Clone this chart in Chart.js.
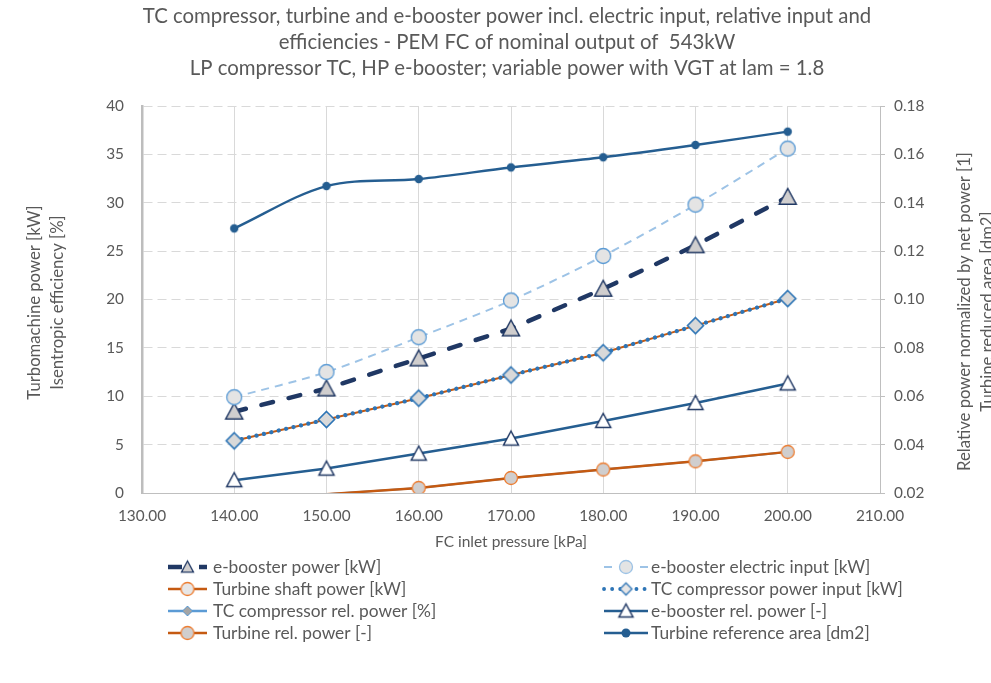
<!DOCTYPE html>
<html>
<head>
<meta charset="utf-8">
<script src="https://cdn.jsdelivr.net/npm/chart.js@4.4.1/dist/chart.umd.min.js"></script>
<style>
html,body{margin:0;padding:0;background:#fff;}
#wrap{width:991px;height:683px;position:relative;overflow:hidden;}
canvas{display:block;}
</style>
</head>
<body>
<div id="wrap"><canvas id="c" width="991" height="683"></canvas></div>
<script>
// ---------------- data ----------------
const pressure = [140, 150, 160, 170, 180, 190, 200];           // FC inlet pressure [kPa]
const eBoosterPower = [8.4, 10.8, 13.9, 17.0, 21.1, 25.6, 30.6];  // kW (left)
const eBoosterElectricInput = [9.9, 12.5, 16.1, 19.9, 24.5, 29.8, 35.6]; // kW (left)
const turbineShaftPower = [5.4, 7.6, 9.8, 12.2, 14.5, 17.3, 20.1];       // kW (left)
const tcCompressorPowerInput = [5.4, 7.6, 9.8, 12.2, 14.5, 17.3, 20.1];  // kW (left)
const tcCompressorRelPower = [0.0137, 0.0195, 0.0221, 0.0262, 0.0297, 0.0331, 0.0370]; // (right)
const eBoosterRelPower = [0.0253, 0.0301, 0.0363, 0.0425, 0.0498, 0.0572, 0.0653];    // (right)
const turbineRelPower = [0.0137, 0.0195, 0.0221, 0.0262, 0.0297, 0.0331, 0.0370];     // (right)
const turbineReferenceArea = [0.1294, 0.1469, 0.1498, 0.1546, 0.1588, 0.1639, 0.1694]; // dm2 (right)

const seriesNames = [
  'e-booster power [kW]', 'e-booster electric input [kW]',
  'Turbine shaft power [kW]', 'TC compressor power input [kW]',
  'TC compressor rel. power [%]', 'e-booster rel. power [-]',
  'Turbine rel. power [-]', 'Turbine reference area [dm2]'
];
const titleLines = [
  'TC compressor, turbine and e-booster power incl. electric input, relative input and',
  'efficiencies - PEM FC of nominal output of  543kW',
  'LP compressor TC, HP e-booster; variable power with VGT at lam = 1.8'
];
const xAxisTitle = 'FC inlet pressure [kPa]';
const leftAxisTitle = ['Turbomachine power [kW]', 'Isentropic efficiency [%]'];
const rightAxisTitle = ['Relative power normalized by net power [1]', 'Turbine reduced area [dm2]'];
const xRange = [130, 210], xStep = 10;
const yLeftRange = [0, 40], yLeftStep = 5;
const yRightRange = [0.02, 0.18], yRightStep = 0.02;

// ---------------- styling helpers ----------------
const fam = 'Lato, "Open Sans", sans-serif';
const txtColor = '#595959';
const mctx = document.createElement('canvas').getContext('2d');
function textW(t, px) { mctx.font = px + 'px ' + fam; return mctx.measureText(t).width; }
const baseSize = 18 * 162 / textW('e-booster power [kW]', 18);
const legendSize = baseSize * 1.04;
const xTitleSize = baseSize * 0.93;
const titleSize = 18 * 729 / textW(titleLines[0], 18);
const tickSize = baseSize * 0.92;

function marker(shape, r, fill, stroke, lw) {
  const s = Math.ceil(2 * r + lw + 3);
  const c = document.createElement('canvas');
  c.width = s; c.height = s;
  const g = c.getContext('2d');
  const m = s / 2;
  g.beginPath();
  if (shape === 'circle') g.arc(m, m, r, 0, Math.PI * 2);
  else if (shape === 'triangle') { g.moveTo(m, m - r); g.lineTo(m + r, m + r * 0.85); g.lineTo(m - r, m + r * 0.85); g.closePath(); }
  else if (shape === 'diamond') { g.moveTo(m, m - r); g.lineTo(m + r, m); g.lineTo(m, m + r); g.lineTo(m - r, m); g.closePath(); }
  g.fillStyle = fill; g.fill();
  if (lw > 0) { g.lineWidth = lw; g.strokeStyle = stroke; g.stroke(); }
  return c;
}

const navy = '#203864', steel = '#255E91', orange = '#C55A11', orangeLight = '#ED7D31';
const mk = {
  ebPow: marker('triangle', 8.5, '#D0CECE', navy, 1.5),
  ebElec: marker('circle', 7.5, '#E4E4E4', '#5B9BD5', 1.3),
  turbShaft: marker('circle', 4, '#E7E6E6', orangeLight, 1),
  tcIn: marker('diamond', 8, '#D9D9D9', '#2E75B6', 1.6),
  tcRel: marker('diamond', 5.5, '#A5A5A5', '#5B9BD5', 1),
  ebRel: marker('triangle', 7.5, '#FFFFFF', navy, 1.5),
  turbRel: marker('circle', 6.5, '#D0CECE', orangeLight, 1.3),
  area: marker('circle', 4.2, steel, steel, 0)
};
const mkLeg = {
  ebPow: marker('triangle', 6, '#D0CECE', navy, 1.3),
  ebElec: marker('circle', 6.5, '#E4E4E4', '#9DC3E6', 1.3),
  turbShaft: marker('circle', 6.5, '#E7E6E6', orangeLight, 1.3),
  tcIn: marker('diamond', 6, '#E7E6E6', '#2E75B6', 1.3),
  tcRel: marker('diamond', 5, '#A5A5A5', '#5B9BD5', 1),
  ebRel: marker('triangle', 7, '#FFFFFF', navy, 1.5),
  turbRel: marker('circle', 6.5, '#D0CECE', orangeLight, 1.3),
  area: marker('circle', 4.5, steel, steel, 0)
};

const pts = arr => pressure.map((p, i) => ({ x: p, y: arr[i] }));
const hideBelow = min => c => (c.parsed && c.parsed.y < min ? 0 : 6);

const datasets = [
  { label: seriesNames[0], data: pts(eBoosterPower), yAxisID: 'y', borderColor: navy, borderWidth: 4.5,
    borderDash: [12, 16], borderCapStyle: 'round', pointStyle: mk.ebPow, pointRadius: 6, tension: 0 },
  { label: seriesNames[1], data: pts(eBoosterElectricInput), yAxisID: 'y', borderColor: '#9DC3E6', borderWidth: 2,
    borderDash: [8, 6], pointStyle: mk.ebElec, pointRadius: 6, tension: 0.3 },
  { label: seriesNames[2], data: pts(turbineShaftPower), yAxisID: 'y', borderColor: orange, borderWidth: 2,
    pointStyle: mk.turbShaft, pointRadius: 4, tension: 0 },
  { label: seriesNames[3], data: pts(tcCompressorPowerInput), yAxisID: 'y', borderColor: '#2E75B6', borderWidth: 4.2,
    borderDash: [0.1, 7.5], borderCapStyle: 'round', pointStyle: mk.tcIn, pointRadius: 6, tension: 0 },
  { label: seriesNames[4], data: pts(tcCompressorRelPower), yAxisID: 'y1', borderColor: '#5B9BD5', borderWidth: 2,
    pointStyle: mk.tcRel, pointRadius: hideBelow(0.02), tension: 0 },
  { label: seriesNames[5], data: pts(eBoosterRelPower), yAxisID: 'y1', borderColor: steel, borderWidth: 2.6,
    pointStyle: mk.ebRel, pointRadius: 6, tension: 0 },
  { label: seriesNames[6], data: pts(turbineRelPower), yAxisID: 'y1', borderColor: orange, borderWidth: 2.5,
    pointStyle: mk.turbRel, pointRadius: hideBelow(0.02), tension: 0 },
  { label: seriesNames[7], data: pts(turbineReferenceArea), yAxisID: 'y1', borderColor: steel, borderWidth: 2.4,
    pointStyle: mk.area, pointRadius: 5, tension: 0.33 }
];
datasets.forEach((d, i) => { d.order = 20 - i; d.fill = false; d.backgroundColor = d.borderColor; d.pointHoverRadius = 0; });

// legend description (drawn by plugin)
const legendItems = [
  { col: 0, row: 0, color: navy, lw: 4.5, dash: [14, 17], cap: 'butt', m: mkLeg.ebPow },
  { col: 1, row: 0, color: '#9DC3E6', lw: 2, dash: [8, 28], cap: 'butt', m: mkLeg.ebElec },
  { col: 0, row: 1, color: orange, lw: 2.5, dash: [], cap: 'butt', m: mkLeg.turbShaft },
  { col: 1, row: 1, color: '#2E75B6', lw: 3.8, dash: [0.1, 8], cap: 'round', m: mkLeg.tcIn },
  { col: 0, row: 2, color: '#5B9BD5', lw: 2.5, dash: [], cap: 'butt', m: mkLeg.tcRel },
  { col: 1, row: 2, color: steel, lw: 2.6, dash: [], cap: 'butt', m: mkLeg.ebRel },
  { col: 0, row: 3, color: orange, lw: 2.5, dash: [], cap: 'butt', m: mkLeg.turbRel },
  { col: 1, row: 3, color: steel, lw: 2.5, dash: [], cap: 'butt', m: mkLeg.area }
];

const textPlugin = {
  id: 'texts',
  beforeDraw(chart) {
    const c = chart.ctx; c.save(); c.fillStyle = '#fff'; c.fillRect(0, 0, chart.width, chart.height); c.restore();
  },
  afterDraw(chart) {
    const ctx = chart.ctx, a = chart.chartArea;
    ctx.save();
    ctx.fillStyle = txtColor;
    ctx.textAlign = 'center';
    ctx.textBaseline = 'middle';
    const cx = (a.left + a.right) / 2 - 4;
    ctx.font = titleSize + 'px ' + fam;
    titleLines.forEach((t, i) => ctx.fillText(t, cx, 16 + i * 26));
    ctx.font = xTitleSize + 'px ' + fam;
    ctx.fillText(xAxisTitle, (a.left + a.right) / 2, a.bottom + 49);
    ctx.font = baseSize + 'px ' + fam;
    const cyL = (a.top + a.bottom) / 2 + 3;
    [35, 58].forEach((x, i) => {
      ctx.save(); ctx.translate(x, cyL); ctx.rotate(-Math.PI / 2); ctx.fillText(leftAxisTitle[i], 0, 0); ctx.restore();
    });
    const cyR = (a.top + a.bottom) / 2 + 12;
    [965, 988].forEach((x, i) => {
      ctx.save(); ctx.translate(x, cyR); ctx.rotate(-Math.PI / 2); ctx.fillText(rightAxisTitle[i], 0, 0); ctx.restore();
    });
    // legend
    ctx.font = legendSize + 'px ' + fam;
    const rowY = [567, 589, 611, 633];
    const colX = [[168, 207, 213], [604, 648, 651]];
    ctx.textAlign = 'left';
    legendItems.forEach((it, i) => {
      const [x0, x1, tx] = colX[it.col];
      const y = rowY[it.row];
      ctx.save();
      ctx.beginPath(); ctx.rect(x0 - 3, y - 10, x1 - x0 + 6, 20); ctx.clip();
      ctx.strokeStyle = it.color; ctx.lineWidth = it.lw; ctx.lineCap = it.cap; ctx.setLineDash(it.dash);
      ctx.beginPath(); ctx.moveTo(x0, y); ctx.lineTo(x1, y); ctx.stroke();
      ctx.restore();
      const m = it.m; const mx = (x0 + x1) / 2;
      ctx.drawImage(m, mx - m.width / 2, y - m.height / 2);
      ctx.fillText(seriesNames[i], tx, y);
    });
    ctx.restore();
  }
};

Chart.defaults.font.family = fam;
Chart.defaults.color = txtColor;

new Chart(document.getElementById('c'), {
  type: 'line',
  data: { datasets },
  options: {
    responsive: false, animation: false, devicePixelRatio: 1, events: [],
    layout: { padding: { top: 106, left: 0, right: 0, bottom: 0 } },
    plugins: { legend: { display: false }, title: { display: false }, tooltip: { enabled: false } },
    scales: {
      x: {
        type: 'linear', position: 'bottom', min: xRange[0], max: xRange[1],
        ticks: { stepSize: xStep, callback: v => Number(v).toFixed(2), font: { size: tickSize }, color: txtColor, padding: 14, maxRotation: 0, autoSkip: false },
        grid: { color: c => (c.tick && c.tick.value === xRange[0]) ? 'rgba(0,0,0,0)' : '#D9D9D9', lineWidth: 1, drawTicks: false },
        border: { color: '#BFBFBF', width: 1 },
        afterFit: s => { s.height = 683 - 493; }
      },
      y: {
        type: 'linear', position: 'left', min: yLeftRange[0], max: yLeftRange[1],
        ticks: { stepSize: yLeftStep, font: { size: tickSize }, color: txtColor, padding: 18 },
        grid: { color: '#D9D9D9', lineWidth: 1, drawTicks: false },
        border: { color: '#BDBDBD', width: 2.5, dash: [9, 5] },
        afterFit: s => { s.width = 142; }
      },
      y1: {
        type: 'linear', position: 'right', min: yRightRange[0], max: yRightRange[1],
        ticks: { stepSize: yRightStep, callback: v => Number(v).toFixed(2), font: { size: tickSize }, color: txtColor, padding: 9 },
        grid: { drawOnChartArea: false, drawTicks: true, tickLength: 5, color: '#BFBFBF' },
        border: { color: '#BFBFBF', width: 1 },
        afterFit: s => { s.width = 991 - 880; }
      }
    }
  },
  plugins: [textPlugin]
});
</script>
</body>
</html>
